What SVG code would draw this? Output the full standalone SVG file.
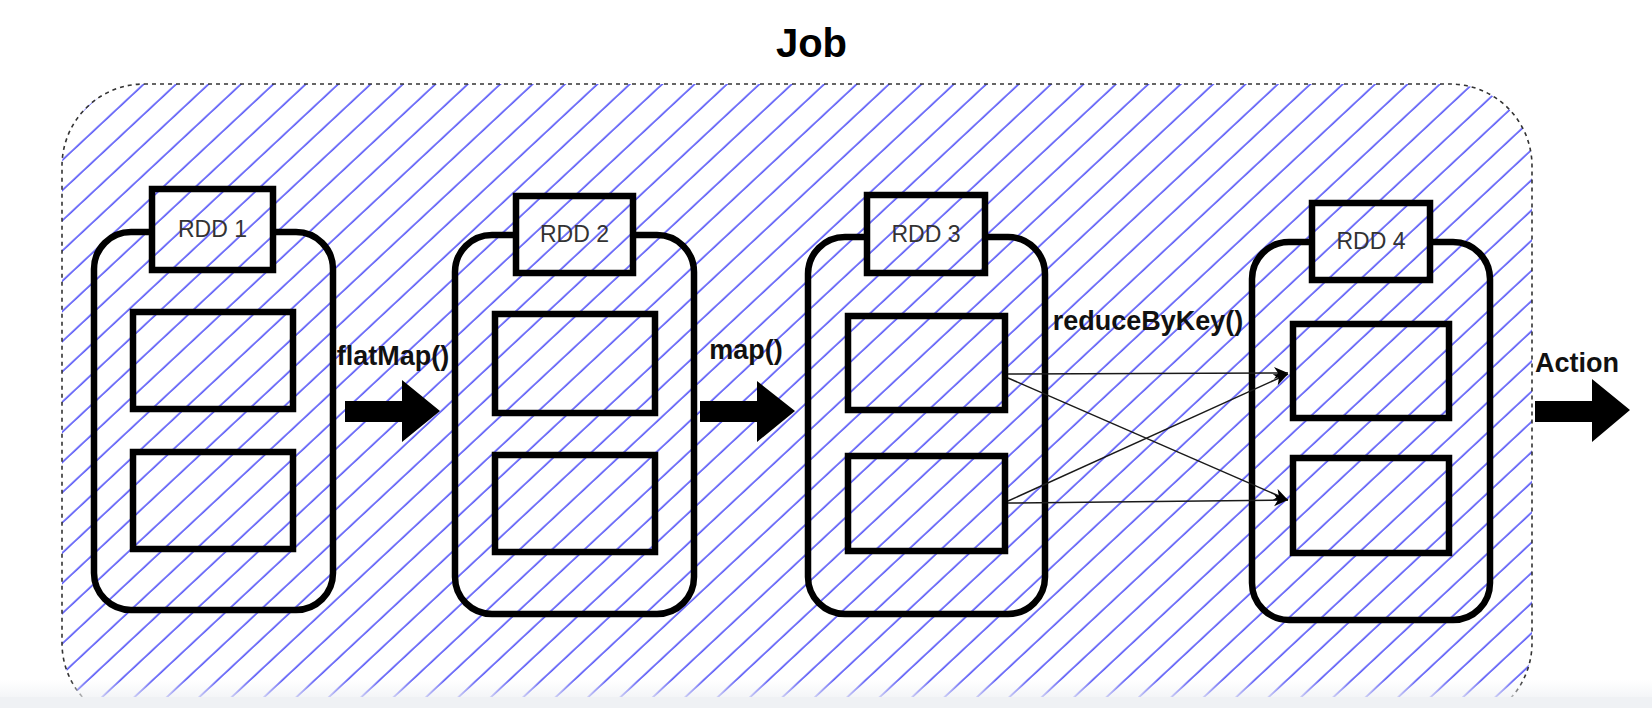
<svg xmlns="http://www.w3.org/2000/svg" width="1652" height="708" viewBox="0 0 1652 708">
<style>
.box{fill:none;stroke:#000;stroke-width:6.5;stroke-linejoin:miter}
.rdd{fill:none;stroke:#000;stroke-width:6.5}
.lbl{font-family:"Liberation Sans",Arial,sans-serif;font-size:23px;fill:#333;text-anchor:middle}
.op{font-family:"Liberation Sans",Arial,sans-serif;font-size:27px;font-weight:bold;fill:#111;text-anchor:middle}
.title{font-family:"Liberation Sans",Arial,sans-serif;font-size:40px;font-weight:bold;fill:#000;text-anchor:middle}
.edge{fill:none;stroke:#1a1a1a;stroke-width:1.5;marker-end:url(#arr)}
.block{fill:#000}
</style>
<defs>
<pattern id="hatch" patternUnits="userSpaceOnUse" width="22.1" height="22.1" patternTransform="rotate(-43)">
<rect x="0" y="4.2" width="22.1" height="1.4" fill="#3c3cf6"/>
</pattern>
<marker id="arr" markerUnits="userSpaceOnUse" markerWidth="16" markerHeight="14" refX="14" refY="6" orient="auto">
<path d="M0,0 L14,6 L0,12 L4,6 Z" fill="#000"/>
</marker>
<clipPath id="view"><rect x="0" y="0" width="1652" height="697"/></clipPath>
<linearGradient id="fade" x1="0" y1="0" x2="0" y2="1">
<stop offset="0" stop-color="#eff1f4" stop-opacity="0"/>
<stop offset="1" stop-color="#eff1f4" stop-opacity="0.7"/>
</linearGradient>
</defs>
<rect width="1652" height="708" fill="#fff"/>
<text class="title" x="811.5" y="57">Job</text>
<g id="job" clip-path="url(#view)">
<rect x="62" y="84" width="1470" height="641" rx="82" ry="82" fill="#fff"/>
<rect x="62" y="84" width="1470" height="641" rx="82" ry="82" fill="url(#hatch)" stroke="#333" stroke-width="1.6" stroke-dasharray="4 4"/>
</g>
<g id="rdd1">
<path class="rdd" d="M273,232 H296 A37,37 0 0 1 333,269 V573 A37,37 0 0 1 296,610 H131 A37,37 0 0 1 94,573 V269 A37,37 0 0 1 131,232 H152"/>
<rect class="box" x="152" y="189" width="121" height="81"/>
<text class="lbl" x="212.5" y="237">RDD 1</text>
<rect class="box" x="133" y="312" width="160" height="97"/>
<rect class="box" x="133" y="452" width="160" height="97"/>
</g>
<g id="rdd2">
<path class="rdd" d="M633,235 H657 A37,37 0 0 1 694,272 V577 A37,37 0 0 1 657,614 H492 A37,37 0 0 1 455,577 V272 A37,37 0 0 1 492,235 H516"/>
<rect class="box" x="516" y="196" width="117" height="77"/>
<text class="lbl" x="574.5" y="242">RDD 2</text>
<rect class="box" x="495" y="314" width="160" height="99"/>
<rect class="box" x="495" y="455" width="160" height="97"/>
</g>
<g id="rdd3">
<path class="rdd" d="M985,237 H1008 A37,37 0 0 1 1045,274 V577 A37,37 0 0 1 1008,614 H845 A37,37 0 0 1 808,577 V274 A37,37 0 0 1 845,237 H867"/>
<rect class="box" x="867" y="195" width="118" height="78"/>
<text class="lbl" x="926" y="242">RDD 3</text>
<rect class="box" x="848" y="316" width="157" height="94"/>
<rect class="box" x="848" y="456" width="157" height="95"/>
</g>
<g id="rdd4">
<path class="rdd" d="M1430,242 H1453 A37,37 0 0 1 1490,279 V583 A37,37 0 0 1 1453,620 H1289 A37,37 0 0 1 1252,583 V279 A37,37 0 0 1 1289,242 H1312"/>
<rect class="box" x="1312" y="203" width="118" height="77"/>
<text class="lbl" x="1371" y="249">RDD 4</text>
<rect class="box" x="1293" y="324" width="156" height="94"/>
<rect class="box" x="1293" y="458" width="156" height="95"/>
</g>
<g id="connectors">
<polygon class="block" points="345,401 402,401 402,380 440,411 402,442 402,422 345,422"/>
<text class="op" x="393" y="365">flatMap()</text>
<polygon class="block" points="700,401 757,401 757,381 795,411 757,442 757,422 700,422"/>
<text class="op" x="746" y="359">map()</text>
<text class="op" x="1148" y="330">reduceByKey()</text>
<line class="edge" x1="1008" y1="374" x2="1288" y2="373"/>
<line class="edge" x1="1008" y1="378" x2="1288" y2="500"/>
<line class="edge" x1="1008" y1="501" x2="1288" y2="374"/>
<line class="edge" x1="1008" y1="503" x2="1288" y2="500"/>
<polygon class="block" points="1535,401 1592,401 1592,379 1630,410 1592,442 1592,422 1535,422"/>
<text class="op" x="1577" y="372">Action</text>
</g>
<rect x="0" y="680" width="1652" height="17" fill="url(#fade)"/>
<rect x="0" y="697" width="1652" height="11" fill="#eff1f4"/>
</svg>
